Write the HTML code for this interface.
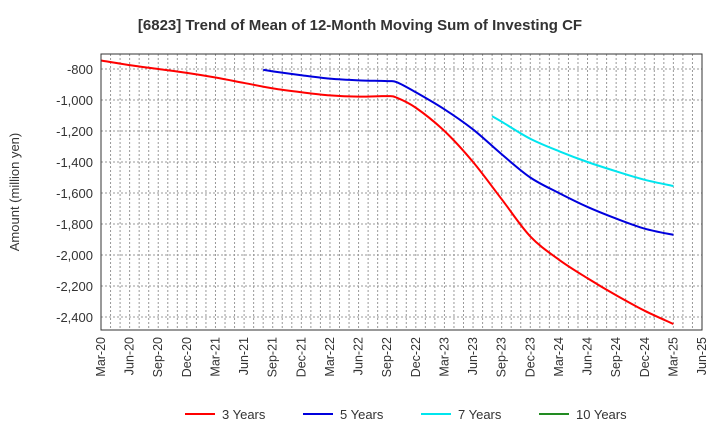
<!DOCTYPE html>
<html><head><meta charset="utf-8"><style>
body{margin:0;background:#fff;font-family:"Liberation Sans",sans-serif;}
svg text{font-family:"Liberation Sans",sans-serif;}
</style></head><body>
<svg width="720" height="440" viewBox="0 0 720 440" id="c">
<text x="360" y="30" text-anchor="middle" font-size="15" font-weight="bold" fill="#333">[6823]  Trend of Mean of 12-Month Moving Sum of Investing CF</text>
<text transform="translate(19,192) rotate(-90)" text-anchor="middle" font-size="13" fill="#333">Amount (million yen)</text>
<g id="grid"></g><g id="series"></g><g id="axes"></g><g id="legend"></g>
</svg>
<script>
const xLabels=["Mar-20","Jun-20","Sep-20","Dec-20","Mar-21","Jun-21","Sep-21","Dec-21","Mar-22","Jun-22","Sep-22","Dec-22","Mar-23","Jun-23","Sep-23","Dec-23","Mar-24","Jun-24","Sep-24","Dec-24","Mar-25","Jun-25"];
const yTicks=[-800,-1000,-1200,-1400,-1600,-1800,-2000,-2200,-2400];
const yLabels=["-800","-1,000","-1,200","-1,400","-1,600","-1,800","-2,000","-2,200","-2,400"];
const seriesNames=["3 Years","5 Years","7 Years","10 Years"];
const seriesColors=["#ff0000","#0000dd","#00e5ee","#228b22"];
// months since Mar-20
const m3=[0,3,6,9,12,15,18,21,24,27,30,31,33,36,39,42,45,48,51,54,57,60];
const v3=[-745,-775,-800,-825,-855,-890,-925,-950,-970,-978,-975,-985,-1050,-1200,-1400,-1640,-1880,-2030,-2150,-2260,-2360,-2445];
const m5=[17,18,21,24,27,30,31,33,36,39,42,45,48,51,54,57,60];
const v5=[-805,-815,-840,-862,-873,-878,-885,-950,-1060,-1190,-1350,-1500,-1600,-1690,-1765,-1830,-1870];
const m7=[41,42,45,48,51,54,57,60];
const v7=[-1105,-1140,-1250,-1330,-1400,-1460,-1515,-1555];
const m10=[];const v10=[];
const L=101,R=702,T=54,B=330,NM=63;
const X=m=>L+(R-L)*m/NM;
const Y=v=>69+(v+800)*(-31/200);
const ns="http://www.w3.org/2000/svg";
function mk(t,a,p){const e=document.createElementNS(ns,t);for(const k in a)e.setAttribute(k,a[k]);p.appendChild(e);return e;}
const g=document.getElementById('grid'),ax=document.getElementById('axes'),sg=document.getElementById('series'),lg=document.getElementById('legend');
for(let m=1;m<NM;m++){const l=mk('line',{x1:X(m),x2:X(m),y1:T,y2:B,stroke:'#999','stroke-width':1,'stroke-dasharray':'2,2'},g);

}
yTicks.forEach((v,i)=>{const l=mk('line',{x1:L,x2:R,y1:Y(v),y2:Y(v),stroke:'#999','stroke-width':1,'stroke-dasharray':'2,2'},g);


const t=mk('text',{x:L-8,y:Y(v)+5,'text-anchor':'end','font-size':13,fill:'#333'},ax);t.textContent=yLabels[i];

});
const fr=mk('rect',{x:L,y:T,width:R-L,height:B-T,fill:'none',stroke:'#333','stroke-width':1},ax);


xLabels.forEach((s,i)=>{const x=X(i*3);const t=mk('text',{transform:`translate(${x+4},${B+7}) rotate(-90)`,'text-anchor':'end','font-size':12.5,fill:'#333'},ax);t.textContent=s;

});
function path(ms,vs){if(!ms.length)return '';const p=ms.map((m,i)=>[X(m),Y(vs[i])]);let d=`M${p[0][0]},${p[0][1]}`;
for(let i=0;i<p.length-1;i++){const p0=p[i-1]||p[i],p1=p[i],p2=p[i+1],p3=p[i+2]||p2;
d+=` C${p1[0]+(p2[0]-p0[0])/6},${p1[1]+(p2[1]-p0[1])/6} ${p2[0]-(p3[0]-p1[0])/6},${p2[1]-(p3[1]-p1[1])/6} ${p2[0]},${p2[1]}`;}return d;}
[[m3,v3],[m5,v5],[m7,v7],[m10,v10]].forEach((s,i)=>{if(!s[0].length)return;const p=mk('path',{d:path(s[0],s[1]),fill:'none',stroke:seriesColors[i],'stroke-width':2},sg);

});
const lx=[185,303,421,539];
seriesNames.forEach((n,i)=>{const ln=mk('line',{x1:lx[i],x2:lx[i]+30,y1:414,y2:414,stroke:seriesColors[i],'stroke-width':2},lg);


const t=mk('text',{x:lx[i]+37,y:419,'font-size':13,fill:'#333'},lg);t.textContent=n;

});
</script>
</body></html>
